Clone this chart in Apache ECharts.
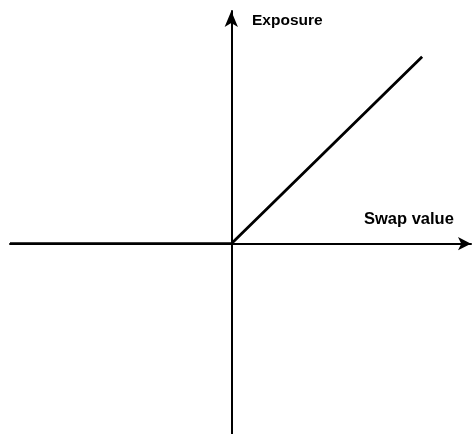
<!DOCTYPE html>
<html>
<head>
<meta charset="utf-8">
<script src="https://cdn.jsdelivr.net/npm/echarts@6/dist/echarts.min.js"></script>
<style>
	html,body{margin:0;padding:0;background:#fff;}
	#chart{width:474px;height:434px;}
</style>
</head>
<body>
<div id="chart"></div>
<script>
// payoff: zero exposure for negative swap value, linear above zero
let swapValues=[-4.8,0,4.14];
let exposureValues=[0,0,4.42];
let xRange=[-4.8,5.2];
let yRange=[-4.5,5.5];
let xName='Swap value';
let yName='Exposure';

function initChart(domid){
	let chartDom=document.getElementById(domid);
	if(chartDom==undefined) return;
	let chartInstance=echarts.getInstanceByDom(chartDom);
	if(chartInstance) return chartInstance;
	return echarts.init(chartDom);
}

let mychart=initChart('chart');
let points=swapValues.map(function(v,i){ return [v,exposureValues[i]]; });

function axisOf(range,arrowSize){
	return {
		type:'value',
		min:range[0],
		max:range[1],
		axisLine:{onZero:true,lineStyle:{color:'#000',width:2},symbol:['none','arrow'],symbolSize:arrowSize},
		axisTick:{show:false},
		axisLabel:{show:false},
		splitLine:{show:false}
	};
}

mychart.setOption({
	animation:false,
	grid:{left:10,right:3,top:11,bottom:0},
	xAxis:axisOf(xRange,[10,13]),
	yAxis:axisOf(yRange,[10,16]),
	graphic:[
		{type:'text',left:252,top:13,style:{text:yName,font:'bold 15.5px "Liberation Sans", Arial, sans-serif',fill:'#000'}},
		{type:'text',left:364,top:211,style:{text:xName,font:'bold 16.5px "Liberation Sans", Arial, sans-serif',fill:'#000'}}
	],
	series:[{
		type:'line',
		data:points,
		showSymbol:false,
		lineStyle:{color:'#000',width:2.8},
		z:3
	}]
});
</script>
</body>
</html>
